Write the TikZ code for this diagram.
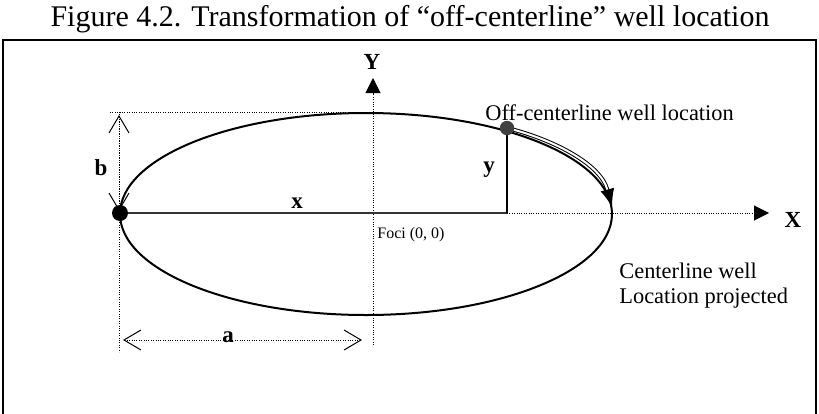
\documentclass[tikz,border=0pt]{standalone}
\usepackage{fontspec}
\setmainfont{Liberation Serif}
\usetikzlibrary{arrows.meta}
\begin{document}
\begin{tikzpicture}[x=0.5pt,y=-0.5pt,
  dotline/.style={line width=0.5pt, dash pattern=on 0.5pt off 0.7pt},
  axistip/.style={-{Triangle[length=7.5pt,width=7.5pt]}},
  barbs/.style={{Straight Barb[length=8.5pt,width=10pt,line width=0.5pt]}-{Straight Barb[length=8.5pt,width=10pt,line width=0.5pt]}},
  lbl/.style={font=\fontsize{11.5}{13}\selectfont\bfseries, inner sep=0pt},
  txt/.style={font=\fontsize{11.2}{12.5}\selectfont, inner sep=0pt, align=left}]
\useasboundingbox (0,0) rectangle (819,413);
% title
\node[font=\fontsize{15}{17}\selectfont, inner sep=0pt] (title) at (410,19) {Figure 4.2. Transformation of ``off-centerline'' well location};
% frame
\draw[line width=0.8pt] (3,420) -- (3,40) -- (816,40) -- (816,420);
% coordinates
\coordinate (O) at (373,213);
\coordinate (L) at (120,213);
\coordinate (W) at (507,128);
\coordinate (Wf) at (507,213);
\coordinate (R) at (612,207);
\coordinate (Xend) at (769,213);
\coordinate (Yend) at (373,78);
\coordinate (Ybot) at (373,345);
% ellipse
\draw[line width=1pt] (366,214) ellipse [x radius=123pt, y radius=50.5pt];
% reference dotted lines
\draw[dotline] (119,112) -- (119,352);
\draw[dotline] (110,112) -- (373,112);
% axes
\draw[dotline, axistip] (Wf) -- (Xend);
\draw[dotline, axistip] (Ybot) -- (Yend);
% x and y segments
\draw[line width=1pt, black!80] (L) -- (Wf);
\draw[line width=0.8pt] (W) -- (Wf);
% b and a dimension arrows
\draw[dotline, barbs] (119,115) -- (119,211);
\draw[dotline, barbs] (123,340) -- (362,340);
% transformation arrow
\draw[line width=0.5pt, double, double distance=1pt, -{Latex[length=9pt,width=7pt]}]
  (W) .. controls (548,138) and (600,162) .. (R);
% dots
\fill (L) circle (4pt);
\fill[black!75] (W) circle (3.6pt);
% labels
\node[lbl] (Ylab) at (372,62) {Y};
\node[lbl] (Xlab) at (793,220) {X};
\node[lbl] (blab) at (101,168) {b};
\node[lbl] (xlab) at (297,203) {x};
\node[lbl] (ylab) at (489,170) {y};
\node[lbl] (alab) at (228,337) {a};
\node[txt, anchor=west] (off) at (485,113) {Off-centerline well location};
\node[font=\fontsize{8}{9}\selectfont, inner sep=0pt, anchor=west] (foci) at (377,235) {Foci (0, 0)};
\node[txt, anchor=west] (cent) at (619,286) {Centerline well\\Location projected};
\end{tikzpicture}
\end{document}
